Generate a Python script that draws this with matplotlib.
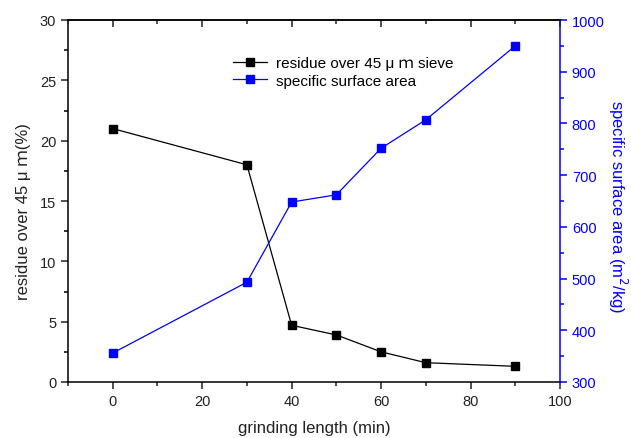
import matplotlib
matplotlib.use("Agg")
import matplotlib.pyplot as plt
from matplotlib.ticker import MultipleLocator

plt.rcParams['font.family'] = ['Liberation Sans', 'Noto Sans CJK SC', 'DejaVu Sans']

minutes = [0, 30, 40, 50, 60, 70, 90]
residue = [21.0, 18.0, 4.7, 3.9, 2.5, 1.6, 1.3]
surface = [356, 493, 648, 662, 752, 807, 950]

label_res = "residue over 45 μ ｍ sieve"
label_ssa = "specific surface area"
xlabel = "grinding length (min)"
ylabel_left = "residue over 45 μ ｍ(%)"
ylabel_right = "specific surface area (m$^2$/kg)"

BLUE = '#0000ff'
DARK = '#222222'

fig = plt.figure(figsize=(6.31, 4.39), dpi=100)
L, R, T, B = 68, 560, 21, 383
ax = fig.add_axes([L/631, 1-B/439, (R-L)/631, (B-T)/439])
ax2 = ax.twinx()
axt = ax.twiny()

ax.plot(minutes, residue, color='black', lw=0.9, marker='s', ms=6, label=label_res)
ax2.plot(minutes, surface, color=BLUE, lw=0.9, marker='s', ms=6, label=label_ssa)

ax.set_xlim(-10, 100)
axt.set_xlim(-10, 100)
ax.set_ylim(0, 30)
ax2.set_ylim(300, 1000)

for a in (ax, axt):
    a.xaxis.set_major_locator(MultipleLocator(20))
    a.xaxis.set_minor_locator(MultipleLocator(10))
ax.yaxis.set_major_locator(MultipleLocator(5))
ax.yaxis.set_minor_locator(MultipleLocator(2.5))
ax2.yaxis.set_major_locator(MultipleLocator(100))
ax2.yaxis.set_minor_locator(MultipleLocator(50))

for s in ['left', 'bottom', 'top']:
    ax.spines[s].set_linewidth(1.1)
ax.spines['right'].set_visible(False)
for s in ['left', 'bottom', 'right']:
    axt.spines[s].set_visible(False)
axt.spines['top'].set_linewidth(1.1)
for s in ['left', 'bottom', 'top']:
    ax2.spines[s].set_visible(False)
ax2.spines['right'].set_color(BLUE)
ax2.spines['right'].set_linewidth(1.1)

ax.tick_params(axis='x', which='both', direction='out', top=False, labelsize=10.5, colors=DARK)
ax.tick_params(axis='x', which='major', length=5, width=1.1)
ax.tick_params(axis='x', which='minor', length=3, width=1.1)
ax.tick_params(axis='y', which='major', direction='out', length=5, width=1.1, labelsize=10.5, colors=DARK)
ax.tick_params(axis='y', which='minor', direction='out', length=3, width=1.1)

axt.tick_params(axis='x', which='major', direction='in', length=5, width=1.1, labeltop=False, colors=DARK)
axt.tick_params(axis='x', which='minor', direction='in', length=3, width=1.1, colors=DARK)

ax2.tick_params(axis='y', which='major', direction='out', length=5, width=1.1, colors=BLUE, labelsize=10.5)
ax2.tick_params(axis='y', which='minor', direction='out', length=3, width=1.1, colors=BLUE)

ax.set_xlabel(xlabel, fontsize=12, color=DARK, labelpad=9)
ax.set_ylabel(ylabel_left, fontsize=12, color=DARK, va='center', ha='center')
ax.yaxis.set_label_coords((24-L)/(R-L), (B-212)/(B-T))
ax2.set_ylabel(ylabel_right, fontsize=12, color=BLUE, rotation=270, va='center', ha='center')
ax2.yaxis.set_label_coords((618-L)/(R-L), (B-207)/(B-T))

h1, l1 = ax.get_legend_handles_labels()
h2, l2 = ax2.get_legend_handles_labels()
ax.legend(h1 + h2, l1 + l2, loc='upper left', bbox_to_anchor=((233-L)/(R-L), (B-57)/(B-T)),
          frameon=False, fontsize=11, handlelength=2.2, handletextpad=0.6,
          labelspacing=0.25, borderaxespad=0, borderpad=0)

fig.savefig('out.png', dpi=100)
